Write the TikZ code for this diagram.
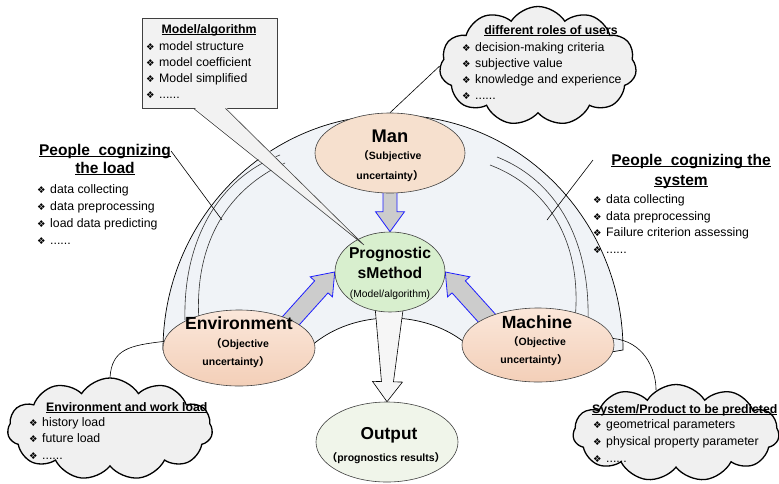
\documentclass[tikz,border=0pt]{standalone}
\usepackage{fontspec}
\setmainfont{Liberation Sans}
\newfontfamily\symfont{DejaVu Sans}
\newfontfamily\cjkfont{Noto Sans CJK SC}
\usetikzlibrary{calc,shapes.geometric,shapes.symbols}
\definecolor{domefill}{RGB}{240,243,247}
\definecolor{manfill}{RGB}{246,224,206}
\definecolor{envtop}{RGB}{251,231,218}
\definecolor{envbot}{RGB}{243,207,184}
\definecolor{progfill}{RGB}{216,239,206}
\definecolor{outfill}{RGB}{240,245,234}
\definecolor{boxfill}{RGB}{242,242,242}
\definecolor{cloudfill}{RGB}{240,240,240}
\definecolor{arrblue}{RGB}{30,30,255}
\definecolor{arrgray}{RGB}{204,204,204}
\definecolor{outarr}{RGB}{246,246,246}
\newcommand{\bul}{{\symfont\fontsize{9.5}{10}\selectfont\char"2756}\hspace{4.5pt}}
\newcommand{\ulx}[1]{\setbox0=\hbox{#1}\rlap{\rule[-2.2pt]{\wd0}{1.2pt}}\box0}
\newcommand{\fwl}{{\cjkfont （}}
\newcommand{\fwr}{{\cjkfont ）}}
\newcommand{\blkarrow}[7]{%
  \coordinate (bkH) at ($(#3)!#4!(#2)$);
  \path[#1] ($(#2)!#5!90:(#3)$) -- ($(bkH)!#6!-90:(#2)$) -- ($(bkH)!#7!-90:(#2)$) -- (#3)
    -- ($(bkH)!#7!90:(#2)$) -- ($(bkH)!#6!90:(#2)$) -- ($(#2)!#5!-90:(#3)$) -- cycle;}
\pgfdeclarelayer{back}
\pgfdeclarelayer{mid}
\pgfsetlayers{back,mid,main}
\begin{document}
\begin{tikzpicture}[x=1pt,y=-1pt,
  ell/.style={ellipse, draw=black!75, line width=0.6pt, inner sep=0},
  bt/.style={inner sep=0, anchor=base west, font=\fontsize{12.3}{14}\selectfont},
  bh/.style={inner sep=0, anchor=base, font=\bfseries\fontsize{15.5}{18}\selectfont},
  hd/.style={inner sep=0, font=\bfseries\fontsize{12.3}{14}\selectfont},
  big/.style={inner sep=0, anchor=base, font=\bfseries\fontsize{17.6}{20}\selectfont},
  small/.style={inner sep=0, anchor=base, font=\bfseries\fontsize{10.5}{12}\selectfont},
  cloudsty/.style={cloud, cloud puffs=11, cloud puff arc=115, cloud ignores aspect, draw=black, line width=1.3pt, fill=cloudfill, inner sep=0},
  bluearr/.style={fill=arrgray, draw=arrblue, line width=0.8pt},
  conn/.style={draw=black, line width=0.6pt},
  arcline/.style={draw=black!80, line width=0.6pt}]
\useasboundingbox (0,0) rectangle (779,483);

% ---- clouds
\node[cloudsty, minimum width=197, minimum height=119] (tcloud) at (538,66) {};
\node[cloudsty, minimum width=205, minimum height=102] (lcloud) at (110,429) {};
\node[cloudsty, minimum width=206, minimum height=97] (rcloud) at (676,433) {};

% ---- ellipses
\node[ell, fill=manfill, minimum width=150, minimum height=80] (man) at (390,153) {};
\node[ell, fill=progfill, minimum width=110, minimum height=80] (prog) at (390,272) {};
\node[ell, top color=envtop, bottom color=envbot, minimum width=152, minimum height=76] (env) at (239,348) {};
\node[ell, top color=envtop, bottom color=envbot, minimum width=152, minimum height=74] (mach) at (538,345) {};
\node[ell, fill=outfill, minimum width=142, minimum height=80] (out) at (387,442) {};

\begin{pgfonlayer}{back}
  \fill[white] (0,0) rectangle (779,483);
  \path[fill=domefill, draw=black, line width=0.7pt] (163,350)
    arc[start angle=180, end angle=360, x radius=230, y radius=235]
    -- (490,372) .. controls (450,300) and (330,300) .. (290,372) -- cycle;
  \draw[arcline] (185,320) .. controls (183,245) and (215,180) .. (280,155);
  \draw[arcline] (199,322) .. controls (194,250) and (222,192) .. (285,163);
  \draw[arcline] (497,157) .. controls (560,182) and (590,245) .. (588,320);
  \draw[arcline] (490,165) .. controls (555,190) and (582,250) .. (575,320);
\end{pgfonlayer}

\begin{pgfonlayer}{mid}
  \coordinate (manb) at ($(man.south)+(0,-4)$);
  \coordinate (envb) at ($(env.28)!-0.15!(prog.180)$);
  \coordinate (machb) at ($(mach.152)!-0.15!(prog.0)$);
  \blkarrow{draw=black, line width=0.6pt, fill=outarr}{prog.center}{out.north}{20pt}{18pt}{6pt}{15pt}
  \blkarrow{bluearr}{manb}{prog.north}{20pt}{7pt}{7pt}{14.5pt}
  \blkarrow{bluearr}{envb}{prog.180}{20pt}{9pt}{9pt}{15pt}
  \blkarrow{bluearr}{machb}{prog.0}{20pt}{9pt}{9pt}{15pt}
  \draw[conn] (man.north) -- (tcloud.west);
  \draw[conn] (env.175) .. controls +(-35,4) and +(2,-28) .. (lcloud.north);
  \draw[conn] (mach.5) .. controls +(30,3) and +(0,-22) .. (rcloud.115);
\end{pgfonlayer}

% ---- ellipse texts
\node[big, font=\bfseries\fontsize{18.3}{20}\selectfont] (mant1) at (390,142) {Man};
\node[small] (mant2) at (390,159) {\fwl Subjective};
\node[small] (mant3) at (390,179) {uncertainty\fwr};
\node[big, font=\bfseries\fontsize{15.7}{18}\selectfont] (prt1) at (390,258) {Prognostic};
\node[big, font=\bfseries\fontsize{15.7}{18}\selectfont] (prt2) at (390,278) {sMethod};
\node[small, font=\fontsize{10.3}{12}\selectfont] (prt3) at (390,297) {(Model/algorithm)};
\node[big] (ent1) at (239,329) {Environment};
\node[small] (ent2) at (240,347) {\fwl Objective};
\node[small] (ent3) at (236,365) {uncertainty\fwr};
\node[big] (mat1) at (537,328) {Machine};
\node[small] (mat2) at (537,345) {\fwl Objective};
\node[small] (mat3) at (534,363) {uncertainty\fwr};
\node[big, font=\bfseries\fontsize{17.3}{20}\selectfont] (out1) at (389,439) {Output};
\node[small] (out2) at (386,461) {\fwl prognostics results\fwr};

% ---- model/algorithm callout
\coordinate (ptip) at ($(prog.center)+(-26,-27)$);
\node[draw=black!75, line width=0.7pt, fill=boxfill, minimum width=135, minimum height=90, inner sep=0] (mbox) at (209.5,63) {};
\fill[boxfill] ($(mbox.south)+(-16,-1.5)$) -- (ptip) -- ($(mbox.south)+(16,-1.5)$) -- cycle;
\draw[conn, draw=black!75] ($(mbox.south)+(-16,0)$) -- (ptip) -- ($(mbox.south)+(16,0)$);
\node[hd, anchor=base] (mh) at (209,33) {\ulx{Model/algorithm}};
\node[bt] (mb1) at (146,50) {\bul model structure};
\node[bt] (mb2) at (146,66) {\bul model coefficient};
\node[bt] (mb3) at (146,82) {\bul Model simplified};
\node[bt] (mb4) at (146,98) {\bul ......};

% ---- top cloud text
\node[hd, anchor=base] (th) at (551,34) {\ulx{different roles of users}};
\node[bt] (tb1) at (462,51) {\bul decision-making criteria};
\node[bt] (tb2) at (462,67) {\bul subjective value};
\node[bt] (tb3) at (462,83) {\bul knowledge and experience};
\node[bt] (tb4) at (462,99) {\bul ......};

% ---- left cloud text
\node[hd, anchor=base west] (lch) at (46,411) {\ulx{Environment and work load}};
\node[bt] (lcb1) at (29,426) {\bul history load};
\node[bt] (lcb2) at (29,442) {\bul future load};
\node[bt] (lcb3) at (29,459) {\bul ......};

% ---- right cloud text
\node[hd, anchor=base west] (rch) at (592,413) {\ulx{System/Product to be predicted}};
\node[bt] (rcb1) at (593,428) {\bul geometrical parameters};
\node[bt] (rcb2) at (593,445) {\bul physical property parameter};
\node[bt] (rcb3) at (593,462) {\bul ......};

% ---- left label
\node[bh] (lh1) at (105,155) {\ulx{People~ cognizing}};
\node[bh] (lh2) at (105,173) {\ulx{the load}};
\node[bt] (lb1) at (37,193) {\bul data collecting};
\node[bt] (lb2) at (37,210) {\bul data preprocessing};
\node[bt] (lb3) at (37,227) {\bul load data predicting};
\node[bt] (lb4) at (37,244) {\bul ......};
\coordinate (lpt) at (222,220);
\draw[conn] (lh1.east) -- (lpt);

% ---- right label
\node[bh] (rh1) at (691,165) {\ulx{People~ cognizing the}};
\node[bh] (rh2) at (681,185) {\ulx{system}};
\node[bt] (rb1) at (593,203) {\bul data collecting};
\node[bt] (rb2) at (593,220) {\bul data preprocessing};
\node[bt] (rb3) at (593,236) {\bul Failure criterion assessing};
\node[bt] (rb4) at (593,253) {\bul ......};
\coordinate (rpa) at (593,160);
\coordinate (rpt) at (547,220);
\draw[conn] (rpa) -- (rpt);
\end{tikzpicture}
\end{document}
